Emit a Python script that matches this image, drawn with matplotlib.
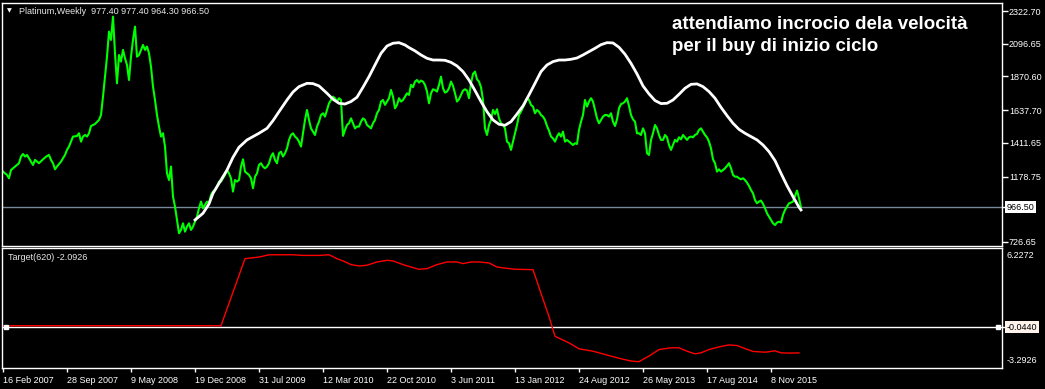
import matplotlib.pyplot as plt
from matplotlib import transforms

# Platinum weekly closes, bar index -> price
green_week = [0, 2, 3, 4, 6, 8, 9, 10, 11, 12, 14, 15, 16, 18, 20, 22, 23, 24, 25, 26,
              27, 29, 31, 32, 33, 34, 35, 37, 38, 39, 40, 41, 42, 43, 44, 46, 48, 49] + list(range(50, 400))
green_close = [1213, 1190, 1167, 1224, 1248, 1271, 1317, 1335, 1317, 1328,
               1282, 1259, 1294, 1271, 1298, 1321, 1328, 1294, 1271, 1229,
               1248, 1282, 1328, 1363, 1386, 1420, 1455, 1459, 1478, 1420,
               1455, 1466, 1455, 1478, 1528, 1542, 1570, 1604,
               1731, 1869, 2007, 2180, 2123, 2284, 2031, 1823, 2019, 1973,
               2054, 1996, 1950, 1846, 2007, 2123, 2215, 2007, 2019, 2054,
               2088, 2054, 2077, 2031, 1938, 1800, 1708, 1604, 1524, 1455,
               1478, 1386, 1201, 1155, 1248, 1040, 971, 879, 787, 810,
               856, 798, 833, 856, 810, 833, 867, 902, 960, 1006,
               960, 983, 1006, 994, 1052, 1075, 1086, 1109, 1144, 1144,
               1167, 1190, 1224, 1201, 1167, 1075, 1155, 1144, 1155, 1247,
               1298, 1213, 1201, 1190, 1167, 1098, 1178, 1201, 1259, 1271,
               1247, 1236, 1247, 1271, 1317, 1340, 1294, 1271, 1340, 1351,
               1317, 1340, 1374, 1432, 1466, 1478, 1455, 1443, 1420, 1386,
               1478, 1570, 1639, 1570, 1512, 1489, 1466, 1524, 1558, 1604,
               1616, 1593, 1639, 1685, 1708, 1731, 1720, 1697, 1720, 1708,
               1460, 1501, 1535, 1547, 1581, 1547, 1512, 1524, 1524, 1558,
               1581, 1570, 1535, 1524, 1512, 1547, 1570, 1616, 1639, 1697,
               1708, 1674, 1697, 1720, 1777, 1731, 1650, 1674, 1720, 1697,
               1708, 1731, 1754, 1743, 1812, 1796, 1835, 1846, 1828, 1842,
               1835, 1812, 1766, 1685, 1754, 1782, 1777, 1766, 1812, 1869,
               1789, 1759, 1766, 1789, 1835, 1805, 1754, 1697, 1713, 1743,
               1773, 1782, 1773, 1720, 1823, 1888, 1904, 1851, 1835, 1796,
               1708, 1512, 1466, 1535, 1570, 1639, 1611, 1644, 1581, 1547,
               1535, 1512, 1420, 1409, 1363, 1420, 1478, 1535, 1604, 1627,
               1657, 1685, 1720, 1708, 1674, 1662, 1616, 1639, 1627, 1604,
               1593, 1570, 1528, 1496, 1455, 1443, 1420, 1455, 1478, 1455,
               1489, 1420, 1432, 1420, 1409, 1397, 1409, 1404, 1501, 1558,
               1604, 1708, 1662, 1697, 1720, 1697, 1639, 1581, 1547, 1570,
               1593, 1604, 1604, 1593, 1616, 1558, 1528, 1574, 1651, 1680,
               1685, 1697, 1720, 1667, 1604, 1574, 1558, 1478, 1478, 1466,
               1512, 1478, 1340, 1328, 1432, 1478, 1535, 1512, 1466, 1432,
               1432, 1466, 1450, 1397, 1363, 1397, 1432, 1420, 1450, 1436,
               1466, 1450, 1432, 1450, 1455, 1450, 1466, 1473, 1501, 1512,
               1489, 1466, 1450, 1420, 1374, 1298, 1271, 1213, 1229, 1213,
               1224, 1236, 1252, 1271, 1236, 1190, 1178, 1178, 1167, 1160,
               1167, 1155, 1137, 1114, 1086, 1063, 1017, 994, 1006, 1013,
               990, 960, 925, 902, 879, 856, 844, 861, 867, 861,
               914, 948, 971, 994, 999, 1006, 1045, 1082, 1029, 966.5]

# white cycle line
white_week = [96, 100, 103, 105, 108, 112, 115, 118, 122, 125, 128, 132, 135, 138, 142, 145,
              148, 152, 155, 158, 162, 165, 168, 171, 174, 177, 180, 183, 186, 189, 192, 195,
              198, 201, 203, 206, 209, 212, 215, 218, 221, 224, 227, 230, 233, 236, 239, 242,
              245, 248, 251, 254, 257, 260, 263, 266, 269, 272, 275, 278, 281, 284, 287, 290,
              293, 296, 299, 302, 305, 308, 311, 314, 317, 320, 323, 326, 329, 332, 335, 338,
              341, 344, 347, 350, 353, 356, 359, 362, 365, 368, 371, 374, 377, 380, 383, 386,
              389, 392, 395, 398, 399]
white_price = [879, 925, 990, 1063, 1132, 1224, 1312, 1381, 1432, 1455, 1478, 1512, 1565, 1627, 1708, 1763,
               1800, 1823, 1821, 1805, 1754, 1713, 1685, 1680, 1697, 1727, 1796, 1869, 1950, 2030, 2081, 2100,
               2104, 2088, 2070, 2047, 2019, 1996, 1984, 1984, 1982, 1968, 1943, 1904, 1846, 1773, 1697, 1627,
               1570, 1540, 1533, 1558, 1611, 1667, 1743, 1823, 1904, 1950, 1973, 1984, 1984, 1989, 1998, 2019,
               2042, 2065, 2090, 2104, 2102, 2072, 2024, 1961, 1888, 1805, 1750, 1704, 1683, 1685, 1708, 1747,
               1789, 1816, 1819, 1800, 1766, 1720, 1657, 1600, 1547, 1505, 1478, 1455, 1432, 1397, 1351, 1289,
               1201, 1116, 1040, 967, 948]

# Target(620) indicator
red_week = [0, 109, 121, 128, 133, 145, 150, 158, 163, 167, 170, 174, 178, 182, 187, 192, 195,
            200, 205, 208, 212, 217, 222, 227, 230, 234, 238, 243, 247, 250, 256, 265, 269,
            273, 276, 283, 288, 295, 304, 309, 314, 318, 320, 323, 328, 334, 338, 342, 346,
            349, 353, 358, 363, 367, 370, 375, 381, 386, 389, 393, 398]
red_value = [0.06, 0.06, 5.38, 5.51, 5.69, 5.69, 5.64, 5.64, 5.69, 5.38, 5.20, 4.91, 4.80, 4.86, 5.12, 5.25, 5.20,
             4.91, 4.67, 4.54, 4.59, 4.91, 5.12, 5.12, 4.99, 5.12, 5.12, 5.04, 4.72, 4.65, 4.54, 4.51, 2.63,
             0.79, -0.78, -1.30, -1.77, -1.96, -2.35, -2.56, -2.74, -2.79, -2.61, -2.35, -1.83, -1.69, -1.69, -1.96, -2.17,
             -2.09, -1.83, -1.62, -1.46, -1.51, -1.69, -1.98, -2.04, -1.93, -2.09, -2.11, -2.0926]

date_ticks = [0, 32, 64, 96, 128, 160, 192, 224, 256, 288, 320, 352, 384]
date_labels = ['16 Feb 2007', '28 Sep 2007', '9 May 2008', '19 Dec 2008', '31 Jul 2009',
               '12 Mar 2010', '22 Oct 2010', '3 Jun 2011', '13 Jan 2012', '24 Aug 2012',
               '26 May 2013', '17 Aug 2014', '8 Nov 2015']
price_ticks = [2322.70, 2096.65, 1870.60, 1637.70, 1411.65, 1178.75, 726.65]
last_price = 966.50
level = -0.0440
sub_max, sub_min = 6.2272, -3.2926

W, H = 1045, 389
plt.rcParams['font.family'] = ['Liberation Sans', 'DejaVu Sans']

fig = plt.figure(figsize=(W / 100, H / 100), dpi=100, facecolor='black')
ax = fig.add_axes([2 / W, 1 - 246 / H, 1000 / W, 243 / H])
ax2 = fig.add_axes([2 / W, 1 - 368 / H, 1000 / W, 120 / H])

for a in (ax, ax2):
    a.set_facecolor('black')
    for s in a.spines.values():
        s.set_color('white')
        s.set_linewidth(1)
    a.set_xlim(-0.5, 499.5)

# main panel
ax.axhline(last_price, color='#778899', lw=1)
ax.plot(green_week, green_close, color='#00ff00', lw=1.5)
ax.plot(white_week, white_price, color='white', lw=2)
ax.set_ylim(699, 2378)
ax.set_xticks([])
ax.yaxis.tick_right()
ax.set_yticks(price_ticks)
ax.set_yticklabels([f'{p:.2f}' for p in price_ticks])
ax.set_yticks([last_price], minor=True)
ax.tick_params(axis='y', which='both', colors='white', length=4, width=1, labelsize=6.5, pad=1)
tr = transforms.blended_transform_factory(ax.transAxes, ax.transData)
ax.text(1.005, last_price, '966.50', transform=tr, ha='left', va='center', fontsize=6.5,
        color='black', bbox=dict(facecolor='white', edgecolor='none', pad=1.2))

# indicator panel
ax2.axhline(level, color='white', lw=1)
ax2.plot(red_week, red_value, color='red', lw=1)
ax2.plot([1.5, 497.5], [level, level], 's', color='white', ms=3, clip_on=False)
ax2.set_ylim(sub_min, sub_max)
ax2.yaxis.tick_right()
ax2.set_yticks([level])
ax2.set_yticklabels([])
ax2.tick_params(axis='y', colors='white', length=4, width=1)
tr2 = transforms.blended_transform_factory(ax2.transAxes, ax2.transData)
ax2.text(1.005, level, '-0.0440', transform=tr2, ha='left', va='center', fontsize=6.5,
         color='black', bbox=dict(facecolor='#fff3ec', edgecolor='none', pad=1.2))
ax2.text(1.005, 0.94, f'{sub_max:.4f}', transform=ax2.transAxes, ha='left', va='center',
         fontsize=6.5, color='white')
ax2.text(1.005, 0.06, f'{sub_min:.4f}', transform=ax2.transAxes, ha='left', va='center',
         fontsize=6.5, color='white')

ax2.set_xticks(date_ticks)
ax2.set_xticklabels(date_labels, ha='left')
ax2.tick_params(axis='x', colors='white', length=3, width=1, labelsize=6.5, pad=3)

# headers and note
fig.text(9 / W, 1 - 11 / H, '\u25bc', color='white', fontsize=4.5, va='center', ha='center',
         family=['DejaVu Sans'])
fig.text(19 / W, 1 - 11 / H, 'Platinum,Weekly  977.40 977.40 964.30 966.50', color='#e8e8e8',
         fontsize=6.5, va='center')
fig.text(8 / W, 1 - 257 / H, 'Target(620) -2.0926', color='#e8e8e8', fontsize=6.5, va='center')
fig.text(672 / W, 1 - 29 / H, 'attendiamo incrocio dela velocità', color='white',
         fontsize=13.5, fontweight='bold', va='baseline')
fig.text(672 / W, 1 - 51 / H, 'per il buy di inizio ciclo', color='white',
         fontsize=13.5, fontweight='bold', va='baseline')

plt.savefig('out.png', dpi=100, facecolor='black')
